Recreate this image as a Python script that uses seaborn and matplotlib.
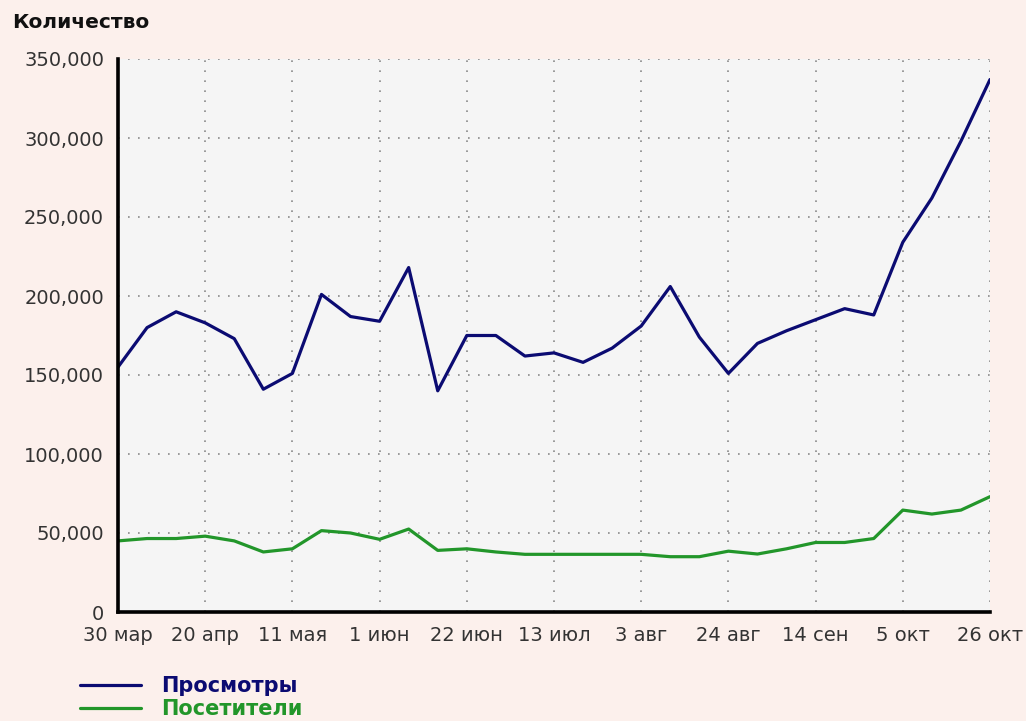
import pandas as pd
import numpy as np
import matplotlib
matplotlib.use("Agg")
import matplotlib.pyplot as plt
import seaborn as sns
from matplotlib.ticker import FuncFormatter
from matplotlib.lines import Line2D

weeks = pd.date_range("2008-03-30", periods=31, freq="7D")

views = [155000, 180000, 190000, 183000, 173000, 141000, 151000, 201000, 187000, 184000,
         218000, 140000, 175000, 175000, 162000, 164000, 158000, 167000, 181000, 206000,
         174000, 151000, 170000, 178000, 185000, 192000, 188000, 234000, 262000, 298000, 337000]

visitors = [45000, 46500, 46500, 48000, 45000, 38000, 40000, 51500, 50000, 46000,
            52500, 39000, 40000, 38000, 36500, 36500, 36500, 36500, 36500, 35000,
            35000, 38500, 36700, 40000, 44000, 44000, 46500, 64500, 62000, 64500, 73000]

tick_labels = ["30 мар", "20 апр", "11 мая", "1 июн", "22 июн", "13 июл",
               "3 авг", "24 авг", "14 сен", "5 окт", "26 окт"]

series_names = ["Просмотры", "Посетители"]
colors = {"Просмотры": "#0b0b72", "Посетители": "#22962a"}

df = pd.DataFrame({
    "week": list(weeks) * 2,
    "value": views + visitors,
    "series": [series_names[0]] * len(weeks) + [series_names[1]] * len(weeks),
})

sns.set_style("white")
plt.rcParams["font.family"] = ["DejaVu Sans"]

fig = plt.figure(figsize=(10.26, 7.21), dpi=100, facecolor="#fcf0ec")
ax = fig.add_axes([118 / 1026, 1 - 612 / 721, (990 - 118) / 1026, (612 - 59) / 721])
ax.set_facecolor("#f5f5f5")

sns.lineplot(data=df, x="week", y="value", hue="series", palette=colors,
             linewidth=2.3, ax=ax, legend=False)

ax.set_xlim(weeks[0], weeks[-1])
ax.set_ylim(0, 350000)
ax.set_yticks(np.arange(0, 350001, 50000))
ax.yaxis.set_major_formatter(FuncFormatter(lambda v, p: f"{int(v):,}"))
ax.set_xticks(weeks[::3])
ax.set_xticklabels(tick_labels)
ax.set_xlabel("")
ax.set_ylabel("")

ax.grid(True, linestyle=(0, (1, 5)), color="#8a8a8a", linewidth=1.2)
ax.set_axisbelow(True)
for s in ["top", "right"]:
    ax.spines[s].set_visible(False)
for s in ["left", "bottom"]:
    ax.spines[s].set_color("black")
    ax.spines[s].set_linewidth(2.6)
ax.tick_params(axis="both", direction="out", length=6, width=1.5, color="black",
               labelsize=14, labelcolor="#333333", pad=4)

fig.text(12 / 1026, 1 - 22 / 721, "Количество", fontsize=14.5, fontweight="bold",
         ha="left", va="center", color="#111111")

handles = [Line2D([], [], color=colors[n], linewidth=2.3) for n in series_names]
leg = fig.legend(handles, series_names, loc="lower left",
                 bbox_to_anchor=(78 / 1026, 0.0), frameon=False, borderpad=0.1,
                 borderaxespad=0.0, handlelength=2.9, handletextpad=1.0,
                 labelspacing=0.12, prop={"size": 15, "weight": "bold"})
for t, n in zip(leg.get_texts(), series_names):
    t.set_color(colors[n])

fig.savefig("out.png", dpi=100, facecolor=fig.get_facecolor())
